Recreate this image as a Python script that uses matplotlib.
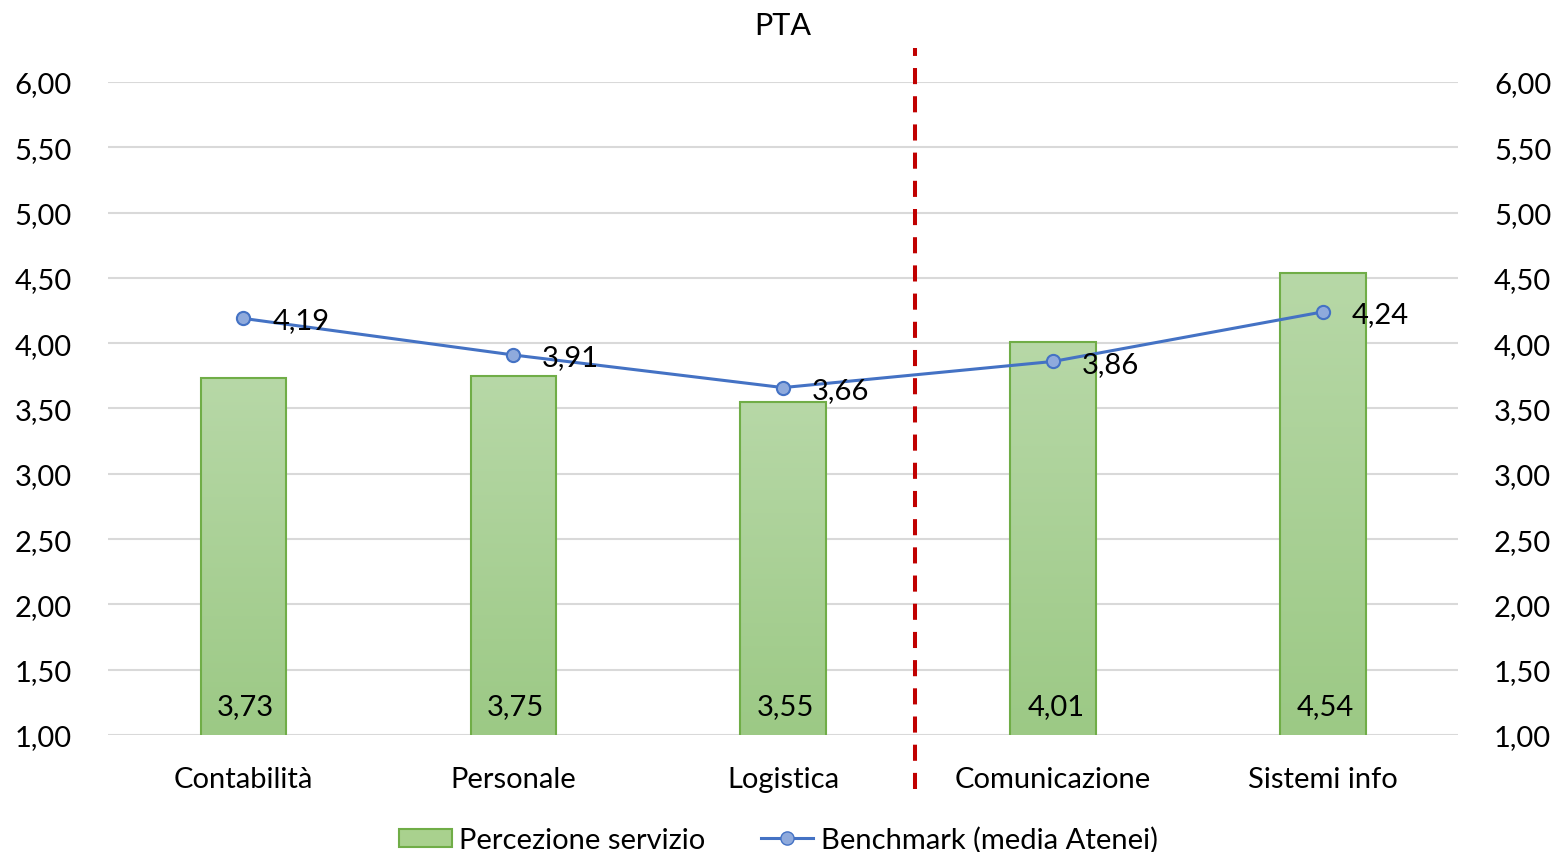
import numpy as np
import matplotlib.pyplot as plt
from matplotlib.colors import LinearSegmentedColormap
from matplotlib.patches import Patch
from matplotlib.lines import Line2D

# dati
categories = ["Contabilità", "Personale", "Logistica", "Comunicazione", "Sistemi info"]
perception = [3.73, 3.75, 3.55, 4.01, 4.54]
benchmark = [4.19, 3.91, 3.66, 3.86, 4.24]
yticks = [1.0, 1.5, 2.0, 2.5, 3.0, 3.5, 4.0, 4.5, 5.0, 5.5, 6.0]

plt.rcParams['font.family'] = ['Lato', 'DejaVu Sans']
FS = 21

def fmt(v):
    return f"{v:.2f}".replace(".", ",")

fig = plt.figure(figsize=(15.57, 8.53), dpi=100)
ax = fig.add_axes([0.0694, 0.1372, 0.8670, 0.7655])

x = np.arange(len(categories))
bars = ax.bar(x, perception, width=0.315, bottom=0, color="none",
              edgecolor="#70ad47", linewidth=1.5, zorder=3)

# gradient fill inside bars (light at top, darker at bottom)
cmap = LinearSegmentedColormap.from_list("g", ["#9cc985", "#b7d8a7"])
grad = np.linspace(0, 1, 256).reshape(-1, 1)
for b in bars:
    im = ax.imshow(grad, cmap=cmap, aspect="auto", origin="lower",
                   extent=[b.get_x(), b.get_x() + b.get_width(), 1.0, b.get_height()],
                   zorder=2)
    im.set_clip_path(b)

for xi, v in zip(x, perception):
    ax.annotate(fmt(v), (xi, 1.0), xytext=(2, 20.5), textcoords="offset points",
                ha="center", va="center", fontsize=FS, zorder=5)

ax.plot(x, benchmark, color="#4472c4", linewidth=2.2, marker="o", markersize=9.5,
        markerfacecolor="#8faadc", markeredgecolor="#4472c4", markeredgewidth=1.5, zorder=4)
for xi, v in zip(x, benchmark):
    ax.annotate(fmt(v), (xi, v), xytext=(21, -1.5), textcoords="offset points",
                ha="left", va="center", fontsize=FS, zorder=5)

# separator
ax.plot([2.49, 2.49], [-0.083, 1.052], transform=ax.get_xaxis_transform(),
        color="#c00000", linestyle=(0, (4, 3)), linewidth=2.9, clip_on=False, zorder=6)

ax.set_xlim(-0.5, 4.5)
ax.set_ylim(1.0, 6.0)
ax.set_xticks(x)
ax.set_xticklabels(categories, fontsize=FS)
ax.set_yticks(yticks)
ax.set_yticklabels([fmt(t) for t in yticks], fontsize=FS)
ax.tick_params(axis="both", length=0)
ax.tick_params(axis="x", pad=22.5)
ax.tick_params(axis="y", pad=26, labelright=True)
ax.grid(axis="y", color="#d9d9d9", linewidth=1.5, zorder=0)
ax.set_axisbelow(True)
for s in ax.spines.values():
    s.set_visible(False)

ax.set_title("PTA", fontsize=FS + 1, pad=34.5)

handles = [Patch(facecolor="#a9d18e", edgecolor="#70ad47", linewidth=1.5),
           Line2D([0], [0], color="#4472c4", linewidth=2.2, marker="o", markersize=9.5,
                  markerfacecolor="#8faadc", markeredgecolor="#4472c4")]
fig.legend(handles, ["Percezione servizio", "Benchmark (media Atenei)"],
           loc="lower center", bbox_to_anchor=(0.5, -0.032), ncol=2, frameon=False,
           fontsize=FS, handlelength=1.8, handleheight=0.6, columnspacing=1.9,
           handletextpad=0.25)

fig.savefig("out.png", dpi=100)
